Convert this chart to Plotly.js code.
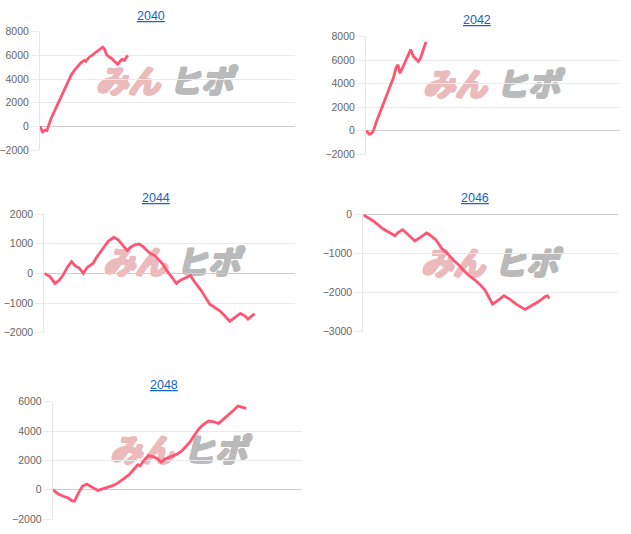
<!DOCTYPE html>
<html>
<head>
<meta charset="utf-8">
<script src="https://cdn.plot.ly/plotly-3.0.1.min.js"></script>
<style>html,body{margin:0;padding:0;background:#fff;}#chart{width:631px;height:534px;}</style>
</head>
<body>
<div id="chart"></div>
<script>
// ---- data ----
const years = ["2040", "2042", "2044", "2046", "2048"];

const x2040 = [0, 1.0, 2.0, 2.7, 4.3, 6.3, 8.2, 10.2, 12.2, 13.5, 14.8, 16.1, 17.4, 18.0, 19.1, 20.4, 21.7, 23.0, 24.6, 25.4, 26.1, 27.2, 28.2, 29.5, 30.5, 31.4, 32.2, 33.1, 34.4];
const y2040 = [0, -470, -310, -360, 640, 1540, 2510, 3400, 4330, 4740, 5110, 5390, 5580, 5500, 5800, 6000, 6220, 6420, 6700, 6500, 6050, 5860, 5720, 5440, 5250, 5500, 5660, 5580, 6000];

const x2042 = [0, 1.3, 2.4, 3.1, 4.2, 5.5, 6.8, 8.1, 9.4, 10.8, 11.8, 12.6, 13.4, 14.4, 15.4, 16.7, 17.6, 18.6, 19.7, 20.6, 21.5, 22.3, 23.2, 23.6];
const y2042 = [0, -310, -200, 110, 820, 1530, 2290, 3090, 3790, 4500, 5350, 5600, 4880, 5350, 5920, 6480, 6900, 6340, 6060, 5880, 6200, 6710, 7470, 7560];

const x2044 = [0, 2.26, 4.25, 5.98, 7.57, 9.16, 10.89, 12.22, 13.94, 15.54, 17.13, 18.46, 19.52, 20.85, 22.18, 23.77, 25.50, 27.76, 29.48, 31.21, 33.07, 34.40, 36.12, 37.72, 39.44, 40.77, 42.10, 44.09, 45.42, 47.14, 48.74, 50.73, 52.72, 54.32, 56.71, 58.30, 59.63, 61.35, 62.68, 64.28, 66.00, 67.99, 69.99, 71.98, 73.97, 75.96, 78.22, 79.95, 81.27, 83.27, 83.93];
const y2044 = [0, -110, -340, -230, -50, 200, 400, 260, 180, 0, 200, 290, 340, 540, 680, 880, 1080, 1220, 1130, 970, 770, 880, 960, 990, 900, 790, 680, 600, 480, 320, 110, -110, -340, -230, -140, -70, -250, -420, -590, -810, -1040, -1150, -1260, -1430, -1620, -1490, -1350, -1430, -1540, -1400, -1370];

const x2046 = [0, 3.92, 7.84, 10.20, 12.42, 13.73, 15.42, 16.99, 18.95, 20.26, 22.22, 24.84, 26.14, 28.50, 30.72, 32.94, 35.29, 37.25, 39.22, 41.18, 43.79, 45.75, 47.71, 49.02, 50.72, 52.94, 55.16, 57.52, 60.13, 63.40, 66.01, 68.63, 71.24, 72.16, 72.94];
const y2046 = [-15, -170, -375, -460, -546, -460, -392, -486, -614, -682, -597, -477, -529, -657, -870, -998, -1168, -1280, -1424, -1552, -1680, -1791, -1936, -2107, -2295, -2192, -2081, -2175, -2303, -2431, -2337, -2235, -2107, -2081, -2150];

const x2048 = [0, 2.28, 4.28, 6.29, 7.63, 8.70, 10.31, 11.91, 13.65, 15.66, 18.07, 20.35, 22.36, 24.36, 26.37, 28.78, 30.66, 32.39, 34.14, 35.07, 36.41, 38.42, 40.43, 42.17, 43.51, 45.11, 47.52, 49.80, 51.81, 53.82, 55.16, 56.89, 58.77, 60.51, 62.52, 64.52, 66.53, 68.54, 70.55, 72.56, 74.30, 75.90, 77.64];
const y2048 = [0, -290, -450, -570, -750, -790, -230, 230, 380, 200, -50, 70, 160, 290, 480, 750, 1020, 1360, 1700, 1630, 1970, 2330, 2240, 2100, 1880, 2100, 2260, 2420, 2640, 3010, 3280, 3730, 4180, 4450, 4680, 4630, 4520, 4810, 5090, 5420, 5700, 5630, 5540];

const yRanges = [[-2000, 8000], [-2000, 8000], [-2000, 2000], [-3000, 0], [-2000, 6000]];
const yDticks = [2000, 2000, 1000, 1000, 2000];
const watermarkLeft = "みん";
const watermarkRight = "ヒポ";

// ---- layout (pixel geometry) ----
const W = 631, H = 534;
const plotBoxes = [
  {x0: 40, x1: 295, top: 31.7, bottom: 150, tx: 151, ty: 16, wx: 93, wy: 83.5},
  {x0: 366, x1: 620, top: 36.7, bottom: 154, tx: 476.5, ty: 20, wx: 420, wy: 86.5},
  {x0: 44.3, x1: 295, top: 214, bottom: 332.7, tx: 156, ty: 198.5, wx: 100, wy: 265},
  {x0: 363.3, x1: 618.3, top: 214.3, bottom: 331.7, tx: 475, ty: 197.5, wx: 418, wy: 265.5},
  {x0: 52.7, x1: 302, top: 401.7, bottom: 519, tx: 164, ty: 385, wx: 107, wy: 452.5}
];
const xs = [x2040, x2042, x2044, x2046, x2048];
const ys = [y2040, y2042, y2044, y2046, y2048];

const lineColor = 'rgb(255,85,115)';
const pink = '#ebbaba', grey = '#bababa';
function thick(c) {
  return ['1px 0 0 ' + c, '-1px 0 0 ' + c, '0 1px 0 ' + c, '0 -1px 0 ' + c,
          '1px 1px 0 ' + c, '-1px -1px 0 ' + c, '1px -1px 0 ' + c, '-1px 1px 0 ' + c].join(', ');
}
const data = [];
const layout = {
  width: W, height: H,
  margin: {l: 0, r: 0, t: 0, b: 0, pad: 0},
  paper_bgcolor: '#fff', plot_bgcolor: 'rgba(0,0,0,0)',
  showlegend: false,
  font: {family: 'Liberation Sans, Arial, sans-serif', color: '#666'},
  annotations: [],
  shapes: []
};

plotBoxes.forEach((b, i) => {
  const n = i === 0 ? '' : String(i + 1);
  data.push({
    x: xs[i], y: ys[i], type: 'scatter', mode: 'lines',
    xaxis: 'x' + n, yaxis: 'y' + n,
    line: {color: lineColor, width: 2.8},
    hoverinfo: 'skip'
  });
  layout['xaxis' + n] = {
    domain: [b.x0 / W, b.x1 / W],
    range: [0, 100], anchor: 'y' + n,
    showgrid: false, zeroline: false, showline: false,
    showticklabels: false, ticks: '', fixedrange: true
  };
  layout['yaxis' + n] = {
    domain: [1 - b.bottom / H, 1 - b.top / H],
    range: yRanges[i], dtick: yDticks[i], tick0: 0,
    anchor: 'x' + n,
    showgrid: true, gridcolor: '#ebebeb', gridwidth: 1,
    zeroline: true, zerolinecolor: '#cfcfcf', zerolinewidth: 1,
    showline: true, linecolor: '#e6e6e6', linewidth: 1,
    ticks: 'outside', ticklen: 8, tickcolor: '#ebebeb', tickwidth: 1,
    tickfont: {size: 10.5, color: '#666', family: 'Liberation Sans, Arial, sans-serif'},
    tickformat: 'd', fixedrange: true
  };
  layout.annotations.push({
    xref: 'paper', yref: 'paper', x: b.tx / W, y: 1 - b.ty / H,
    xanchor: 'center', yanchor: 'middle', showarrow: false,
    text: '<u>' + years[i] + '</u>',
    font: {size: 12.5, color: '#1466c6', family: 'Liberation Sans, Arial, sans-serif'}
  });
  [[watermarkLeft, b.wx + 35, pink], [watermarkRight, b.wx + 108, grey]].forEach(([t, cx, c]) => {
    layout.shapes.push({
      type: 'rect', xref: 'paper', yref: 'paper', layer: 'below',
      x0: (cx - 36) / W, x1: (cx + 36) / W,
      y0: 1 - (b.wy + 14) / H, y1: 1 - (b.wy - 14) / H,
      line: {width: 0}, fillcolor: 'rgba(0,0,0,0)',
      label: {
        text: t, textposition: 'middle center', padding: 0,
        font: {size: 32, color: c, family: 'Noto Sans CJK JP', weight: 'bold', style: 'italic', shadow: thick(c)}
      }
    });
  });
});

Plotly.newPlot('chart', data, layout, {displayModeBar: false, staticPlot: true});
</script>
</body>
</html>
